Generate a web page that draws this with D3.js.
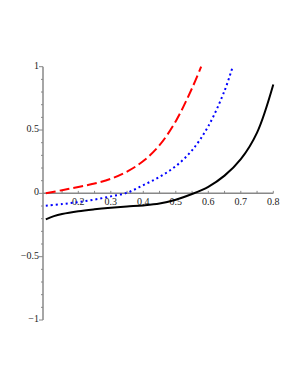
<!DOCTYPE html>
<html>
<head>
<meta charset="utf-8">
<script src="https://cdn.jsdelivr.net/npm/d3@7"></script>
<style>
  body { margin: 0; background: #fff; }
  .axis text { font-family: "Liberation Serif", serif; font-size: 10px; fill: #222; }
</style>
</head>
<body>
<div id="chart-area"></div>
<script>
// Data
var xRed   = [0.1, 0.15, 0.2, 0.25, 0.3, 0.35, 0.4, 0.45, 0.5, 0.55, 0.578];
var yRed   = [0, 0.025, 0.05, 0.078, 0.115, 0.172, 0.255, 0.38, 0.57, 0.83, 1.0];
var xBlue  = [0.1, 0.15, 0.2, 0.25, 0.3, 0.35, 0.4, 0.45, 0.5, 0.55, 0.6, 0.65, 0.675];
var yBlue  = [-0.098, -0.085, -0.069, -0.049, -0.024, 0.005, 0.065, 0.13, 0.215, 0.34, 0.53, 0.81, 1.0];
var xBlack = [0.1, 0.125, 0.15, 0.2, 0.25, 0.3, 0.35, 0.4, 0.45, 0.5, 0.55, 0.6, 0.65, 0.7, 0.75, 0.8];
var yBlack = [-0.205, -0.18, -0.163, -0.141, -0.126, -0.114, -0.104, -0.095, -0.08, -0.05, -0.005, 0.052, 0.14, 0.27, 0.48, 0.86];

var xTicks = [0.2, 0.3, 0.4, 0.5, 0.6, 0.7, 0.8];
var yTicks = [-1, -0.5, 0, 0.5, 1];

var width = 300;
var height = 388;

var svg = d3.select("#chart-area")
    .append("svg")
    .attr("width", width)
    .attr("height", height);

// scales
var x = d3.scaleLinear().domain([0.1, 0.8]).range([45.8, 273.3]);
var y = d3.scaleLinear().domain([-1, 1]).range([320, 66.7]);

// x axis
var gx = svg.append("g").attr("class", "axis");
gx.append("line")
    .attr("x1", 43).attr("x2", x(0.8))
    .attr("y1", y(0)).attr("y2", y(0))
    .attr("stroke", "#888").attr("stroke-width", 1.5);
var xMinor = d3.range(0.15, 0.801, 0.05);
gx.selectAll(".xminor").data(xMinor).enter().append("line")
    .attr("x1", d => x(d)).attr("x2", d => x(d))
    .attr("y1", y(0)).attr("y2", y(0) - 2.5)
    .attr("stroke", "#888").attr("stroke-width", 1);
gx.selectAll(".xlab").data(xTicks).enter().append("text")
    .attr("x", d => x(d))
    .attr("y", y(0) + 12)
    .attr("text-anchor", "middle")
    .text(d => d3.format(".1f")(d));

// y axis
var gy = svg.append("g").attr("class", "axis");
gy.append("line")
    .attr("x1", 43).attr("x2", 43)
    .attr("y1", y(-1)).attr("y2", y(1))
    .attr("stroke", "#888").attr("stroke-width", 1.5);
var yMinor = d3.range(-10, 11).map(d => d / 10);
gy.selectAll(".yminor").data(yMinor).enter().append("line")
    .attr("x1", 43).attr("x2", d => yTicks.indexOf(d) >= 0 ? 39 : 41)
    .attr("y1", d => y(d)).attr("y2", d => y(d))
    .attr("stroke", "#888").attr("stroke-width", 1);
gy.selectAll(".ylab").data(yTicks).enter().append("text")
    .attr("x", 39)
    .attr("y", d => y(d) + 2)
    .attr("text-anchor", "end")
    .text(d => d < 0 ? "\u2212" + Math.abs(d) : d);

// curves
var line = d3.line()
    .x(d => x(d[0]))
    .y(d => y(d[1]))
    .curve(d3.curveCatmullRom.alpha(0.5));

svg.append("path")
    .datum(d3.zip(xRed, yRed))
    .attr("d", line)
    .attr("fill", "none")
    .attr("stroke", "#ff0000")
    .attr("stroke-width", 2)
    .attr("stroke-dasharray", "10,4");

svg.append("path")
    .datum(d3.zip(xBlue, yBlue))
    .attr("d", line)
    .attr("fill", "none")
    .attr("stroke", "#0000ff")
    .attr("stroke-width", 2)
    .attr("stroke-dasharray", "2,3");

svg.append("path")
    .datum(d3.zip(xBlack, yBlack))
    .attr("d", line)
    .attr("fill", "none")
    .attr("stroke", "#000")
    .attr("stroke-width", 2);
</script>
</body>
</html>
